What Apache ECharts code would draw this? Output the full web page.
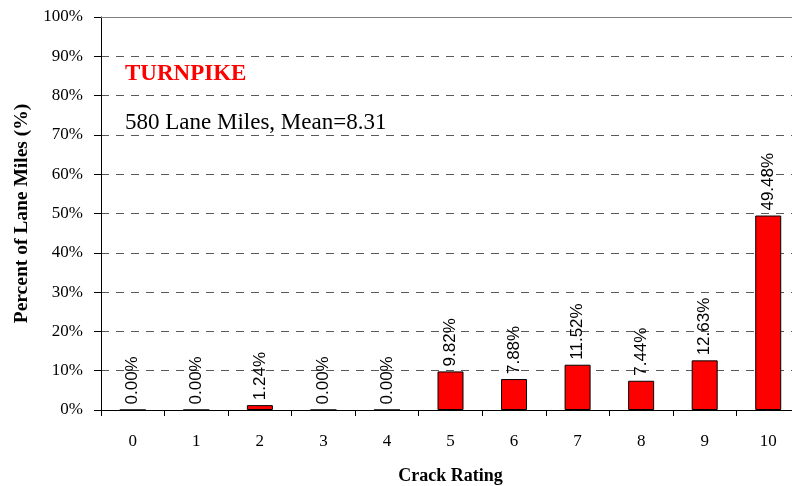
<!DOCTYPE html>
<html><head><meta charset="utf-8">
<script src="https://cdn.jsdelivr.net/npm/echarts@6/dist/echarts.min.js"></script>
<style>html,body{margin:0;padding:0;background:#fff}#c{width:792px;height:486px}</style>
</head><body><div id="c"></div>
<script>
const categories = ['0','1','2','3','4','5','6','7','8','9','10'];
const values = [0.00, 0.00, 1.24, 0.00, 0.00, 9.82, 7.88, 11.52, 7.44, 12.63, 49.48];
const yTicks = [0,10,20,30,40,50,60,70,80,90,100];
const titleText = 'TURNPIKE';
const subText = '580 Lane Miles, Mean=8.31';

const chart = echarts.init(document.getElementById('c'), null, {renderer:'canvas'});
chart.setOption({
  animation:false,
  backgroundColor:'#fff',
  grid:{left:101, right:-8, top:17, bottom:76, show:false, outerBoundsMode:'none', containLabel:false},
  graphic:[
    {type:'text', left:125, top:63, z:100, style:{text:titleText, fill:'#ff0000', font:'bold 23px "Liberation Serif"'}},
    {type:'text', left:125, top:111, z:100, style:{text:subText, fill:'#000', font:'23px "Liberation Serif"'}},
    {type:'line', z:100, shape:{x1:101,y1:17.5,x2:800,y2:17.5}, style:{stroke:'#808080', lineWidth:1}}
  ],
  xAxis:{
    type:'category', data:categories,
    name:'Crack Rating', nameLocation:'middle', nameGap:57,
    nameTextStyle:{fontFamily:'Liberation Serif', fontWeight:'bold', fontSize:18, color:'#000'},
    axisLine:{lineStyle:{color:'#000', width:1}},
    axisTick:{show:true, alignWithLabel:false, length:6, lineStyle:{color:'#000'}},
    axisLabel:{fontFamily:'Liberation Serif', fontSize:17, color:'#000', margin:23}
  },
  yAxis:{
    type:'value', min:0, max:100, interval:10,
    name:'Percent of Lane Miles (%)', nameLocation:'middle', nameGap:69,
    nameTextStyle:{fontFamily:'Liberation Serif', fontWeight:'bold', fontSize:19.5, color:'#000'},
    axisLine:{show:true, lineStyle:{color:'#000', width:1}},
    axisTick:{show:true, length:7, lineStyle:{color:'#000'}},
    axisLabel:{fontFamily:'Liberation Serif', fontSize:17, color:'#000', margin:18,
      formatter:v => yTicks.includes(v) ? v + '%' : ''},
    splitLine:{show:true, lineStyle:{color:'#5a5a5a', type:[8,7], width:1}}
  },
  series:[{
    type:'bar', data:values, barWidth:26,
    itemStyle:{color:'#ff0000', borderColor:'#000', borderWidth:1},
    label:{show:true, position:'top', rotate:90, align:'left', verticalAlign:'middle', distance:5,
      formatter:p => p.value.toFixed(2) + '%',
      fontFamily:'Liberation Sans', fontSize:17, color:'#000'}
  }]
});
</script></body></html>
